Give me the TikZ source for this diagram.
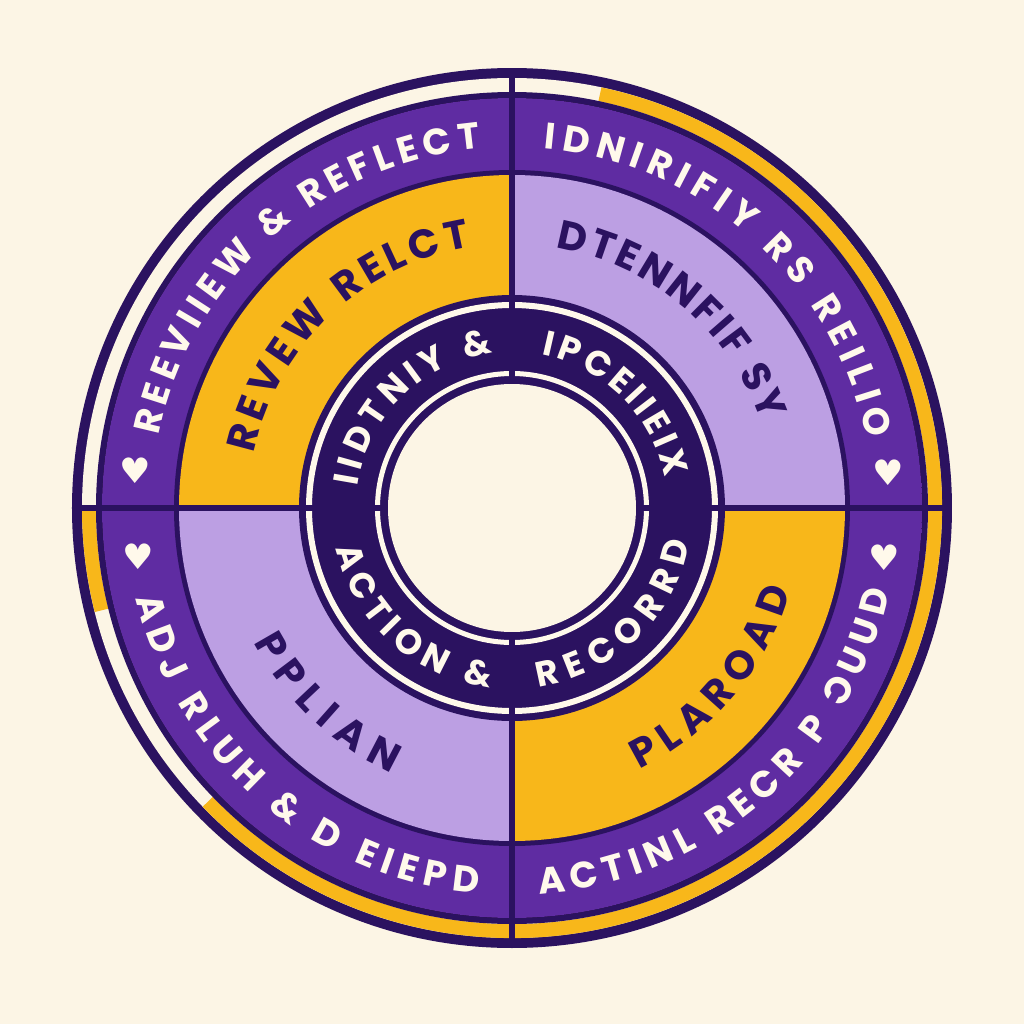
\documentclass[tikz,border=0pt]{standalone}
\usepackage{fontspec}
\usepackage{graphicx}
\usepackage{tikz}
\usetikzlibrary{decorations.text}
\newfontfamily\ringfont{Poppins}
\newfontfamily\symfont{DejaVu Sans}
\definecolor{mcream}{HTML}{FCF5E5}
\definecolor{mnavy}{HTML}{2B1260}
\definecolor{mpurple}{HTML}{8048C6}
\definecolor{mpurpdark}{HTML}{5F2CA2}
\definecolor{mlilac}{HTML}{BC9FE3}
\definecolor{mgold}{HTML}{F8B71A}
\definecolor{mwhite}{HTML}{FFF9EB}
\pgfdeclareradialshading{bandglow}{\pgfpoint{0bp}{0bp}}{%
  color(0bp)=(mpurpdark); color(41bp)=(mpurpdark); color(44bp)=(mpurple);
  color(47bp)=(mpurple); color(50bp)=(mpurpdark); color(51bp)=(mpurpdark)}
\newcommand\outerlbl{\ringfont\bfseries\fontsize{10.5}{10.5}\selectfont\color{mwhite}}
\newcommand\midlbl{\ringfont\bfseries\fontsize{11.5}{11.5}\selectfont\color{mnavy}}
\newcommand\innerlbl{\ringfont\bfseries\fontsize{10}{10}\selectfont\color{mwhite}}
\tikzset{
  arctext/.style={decorate, decoration={text along path, text align=fit to path, text={#1}}},
  divider/.style={draw=mnavy, line width=0.55mm},
  gapband/.style={draw=mgold, line width=1.4mm},
  dot/.style={text=mwhite, inner sep=0pt, font=\symfont\fontsize{10}{10}\selectfont},
}

\begin{document}
\begin{tikzpicture}
  \useasboundingbox (-5.12,-5.16) rectangle (5.12,5.08);
  \fill[mcream] (-5.12,-5.16) rectangle (5.12,5.08);

  % outer rim with the thin gap
  \fill[mnavy] (0,0) circle (4.40);
  \fill[mcream] (0,0) circle (4.30);
  \draw[gapband] (78:4.23) arc[start angle=78, end angle=-136, radius=4.23];
  \draw[gapband] (180:4.23) arc[start angle=180, end angle=194, radius=4.23];
  \fill[mnavy] (0,0) circle (4.16);
  \fill[shading=bandglow] (0,0) circle (4.10);

  % four quadrant panels
  \fill[mnavy] (0,0) circle (3.38);
  \fill[mgold]  (0,0) -- (90:3.33) arc[start angle=90, end angle=180, radius=3.33] -- cycle;
  \fill[mlilac] (0,0) -- (0:3.33) arc[start angle=0, end angle=90, radius=3.33] -- cycle;
  \fill[mlilac] (0,0) -- (180:3.33) arc[start angle=180, end angle=270, radius=3.33] -- cycle;
  \fill[mgold]  (0,0) -- (270:3.33) arc[start angle=270, end angle=360, radius=3.33] -- cycle;

  % inner ring
  \fill[mnavy] (0,0) circle (2.13);
  \draw[mwhite, line width=0.6mm] (0,0) circle (2.03);
  \draw[mwhite, line width=0.5mm] (0,0) circle (1.345);
  \fill[mcream] (0,0) circle (1.24);

  \foreach \a in {0,90,180,270}
    \draw[divider] (\a:1.24) -- (\a:4.40);

  % outer band
  \path[arctext={|\outerlbl|REEVIIEW {\&} REFLECT}] (168.5:3.61) arc[start angle=168.5, end angle=95, radius=3.61];
  \path[arctext={|\outerlbl|IDNIRIFIY RS REILIO}] (85:3.61) arc[start angle=85, end angle=11, radius=3.61];
  \path[arctext={|\outerlbl|ADJ RLUH {\&} D EIEPD}] (193.5:3.87) arc[start angle=193.5, end angle=265, radius=3.87];
  \path[arctext={|\outerlbl|ACTINL RECR P {\reflectbox{C}}UUD}] (274:3.87) arc[start angle=274, end angle=347.5, radius=3.87];

  % middle band
  \path[arctext={|\midlbl|REVEW RELCT}] (168:2.64) arc[start angle=168, end angle=99, radius=2.64];
  \path[arctext={|\midlbl|DTENNFIF SY}] (80.5:2.64) arc[start angle=80.5, end angle=19, radius=2.64];
  \path[arctext={|\midlbl|PPLIAN}] (207.5:2.91) arc[start angle=207.5, end angle=245.5, radius=2.91];
  \path[arctext={|\midlbl|PLAROAD}] (296:2.91) arc[start angle=296, end angle=343.5, radius=2.91];

  % inner ring
  \path[arctext={|\innerlbl|IIDTNIY {\&}}] (172:1.56) arc[start angle=172, end angle=97, radius=1.56];
  \path[arctext={|\innerlbl|IPCEIIEIX}] (79:1.56) arc[start angle=79, end angle=11, radius=1.56];
  \path[arctext={|\innerlbl|ACTION {\&}}] (193:1.81) arc[start angle=193, end angle=263, radius=1.81];
  \path[arctext={|\innerlbl|RECORRD}] (278.5:1.81) arc[start angle=278.5, end angle=349, radius=1.81];

  \node[dot] (dotTL) at (174.3:3.79) {♥};
  \node[dot] (dotBL) at (187.4:3.77) {♥};
  \node[dot] (dotTR) at (5.4:3.78) {♥};
  \node[dot] (dotBR) at (352.4:3.76) {♥};
\end{tikzpicture}
\end{document}
